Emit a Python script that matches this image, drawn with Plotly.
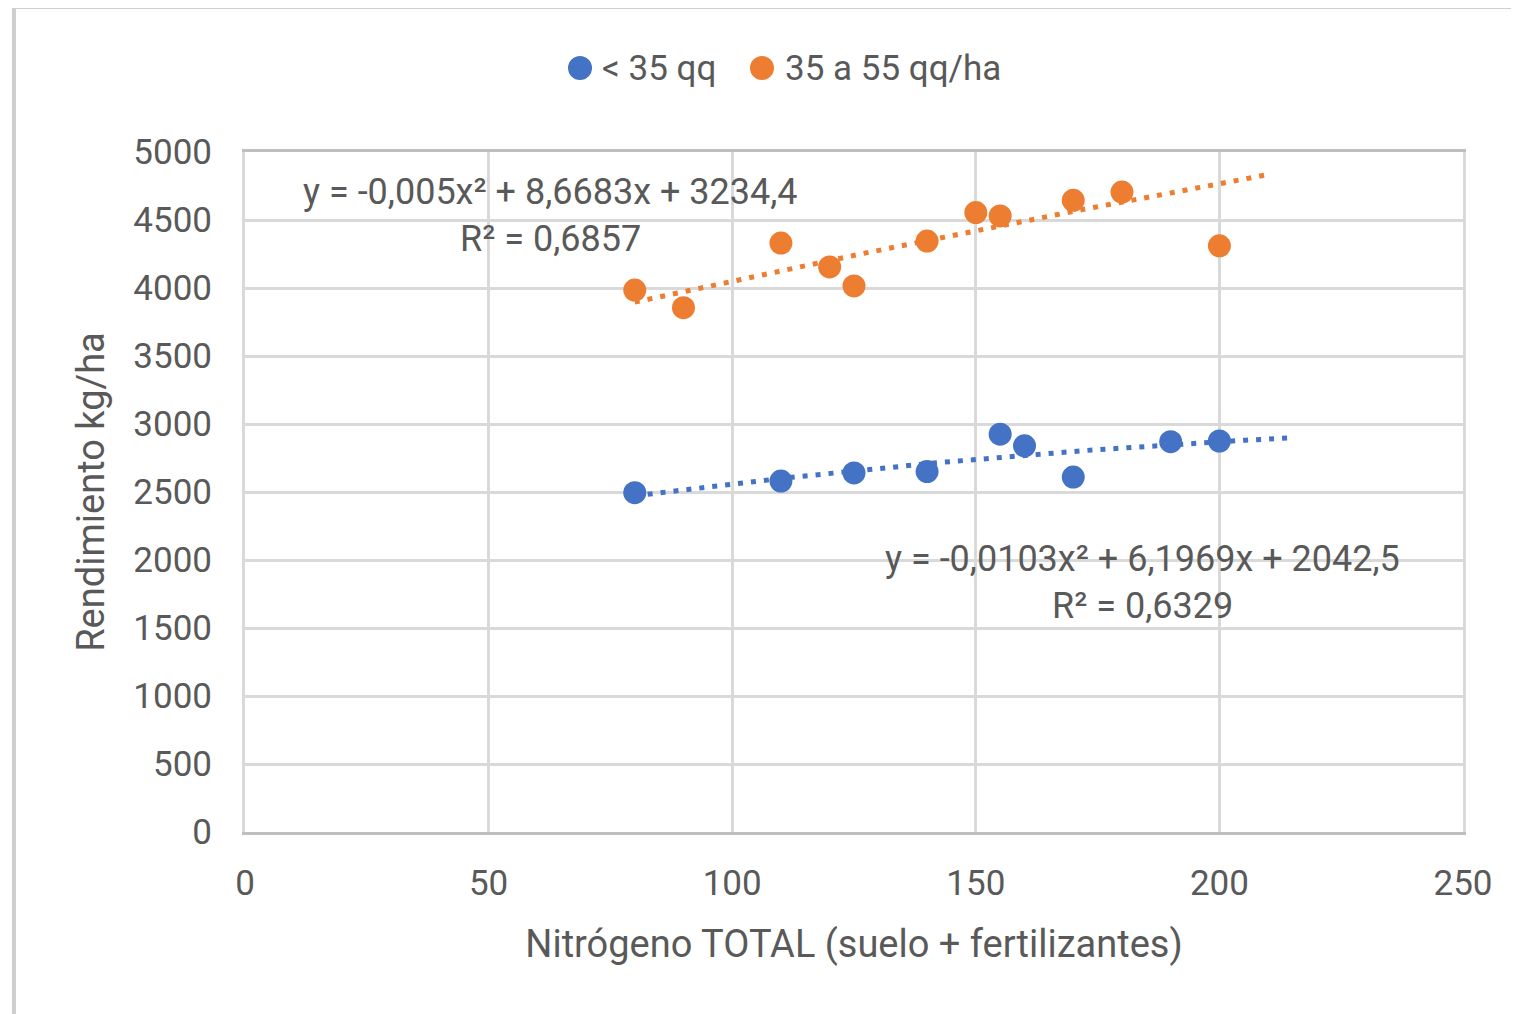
import numpy as np
import plotly.graph_objects as go

# nitrogen (kg/ha) vs yield (kg/ha), two yield groups
n_low = [80, 110, 125, 140, 155, 160, 170, 190, 200]
y_low = [2495, 2580, 2640, 2650, 2925, 2840, 2610, 2870, 2875]

n_mid = [80, 90, 110, 120, 125, 140, 150, 155, 170, 180, 200]
y_mid = [3985, 3855, 4330, 4155, 4015, 4345, 4555, 4530, 4645, 4705, 4310]

# polynomial trendline coefficients as printed on the chart (a, b, c)
coef_low = [-0.0103, 6.1969, 2042.5]
coef_mid = [-0.005, 8.6683, 3234.4]
trend_low_range = (80, 215)
trend_mid_range = (80, 210)

series_names = ["< 35 qq", "35 a 55 qq/ha"]
eq_low = ["y = -0,0103x² + 6,1969x + 2042,5", "R² = 0,6329"]
eq_mid = ["y = -0,005x² + 8,6683x + 3234,4", "R² = 0,6857"]

BLUE = "#4472C4"
ORANGE = "#ED7D31"
TXT = "#595959"
GRID = "#D9D9D9"
FONT = "Roboto"

fig = go.Figure()

for coef, rng, col in [(coef_mid, trend_mid_range, ORANGE), (coef_low, trend_low_range, BLUE)]:
    xs = np.linspace(rng[0], rng[1], 100)
    fig.add_trace(go.Scatter(x=xs, y=np.polyval(coef, xs), mode="lines",
                             line=dict(color=col, width=5, dash="5px,8px"),
                             showlegend=False, hoverinfo="skip"))

fig.add_trace(go.Scatter(x=n_low, y=y_low, mode="markers", name=series_names[0],
                         marker=dict(color=BLUE, size=23), showlegend=False))
fig.add_trace(go.Scatter(x=n_mid, y=y_mid, mode="markers", name=series_names[1],
                         marker=dict(color=ORANGE, size=23), showlegend=False))

# equation labels
for (line1, line2), x, y1, y2 in [(eq_mid, 62.8, 4706, 4360), (eq_low, 184.3, 2005, 1660)]:
    fig.add_annotation(x=x, y=y1, text=line1, showarrow=False, font=dict(size=36, color=TXT))
    fig.add_annotation(x=x, y=y2, text=line2, showarrow=False, font=dict(size=36, color=TXT))

# legend drawn by hand so the markers can be as big as in the original
for name, col, cx0, tx in [(series_names[0], BLUE, 0.2652, 0.2915),
                           (series_names[1], ORANGE, 0.4146, 0.4417)]:
    fig.add_shape(type="circle", xref="paper", yref="paper", x0=cx0, x1=cx0 + 0.0197,
                  y0=1.1059, y1=1.1412, fillcolor=col, line=dict(width=0))
    fig.add_annotation(xref="paper", yref="paper", x=tx, y=1.1235, xanchor="left",
                       yanchor="middle", text=name, showarrow=False,
                       font=dict(size=35, color=TXT))

# outer chart border
fig.add_shape(type="rect", xref="paper", yref="paper", x0=-0.1897, x1=1.08, y0=-0.3, y1=1.2132,
              line=dict(color="#CFCFCF", width=4), layer="below")

fig.update_layout(
    width=1519, height=1014,
    margin=dict(l=237, r=64, t=144, b=190),
    paper_bgcolor="white", plot_bgcolor="white",
    font=dict(family=FONT, size=34, color=TXT),
    showlegend=False,
)
fig.update_xaxes(range=[0, 250], dtick=50, showgrid=True, gridcolor=GRID, gridwidth=3,
                 zeroline=False, showline=True, linecolor="#BFBFBF", linewidth=3, mirror=True,
                 ticklabelstandoff=18, tickfont=dict(size=35),
                 title=dict(text="Nitrógeno TOTAL (suelo + fertilizantes)", standoff=28,
                            font=dict(size=38, color=TXT)))
fig.update_yaxes(range=[0, 5000], dtick=500, showgrid=True, gridcolor=GRID, gridwidth=3,
                 zeroline=False, showline=True, linecolor=GRID, linewidth=3, mirror=True,
                 ticklabelstandoff=23, tickfont=dict(size=35),
                 title=dict(text="Rendimiento kg/ha", standoff=18, font=dict(size=38, color=TXT)))

fig.write_html("out.html")
